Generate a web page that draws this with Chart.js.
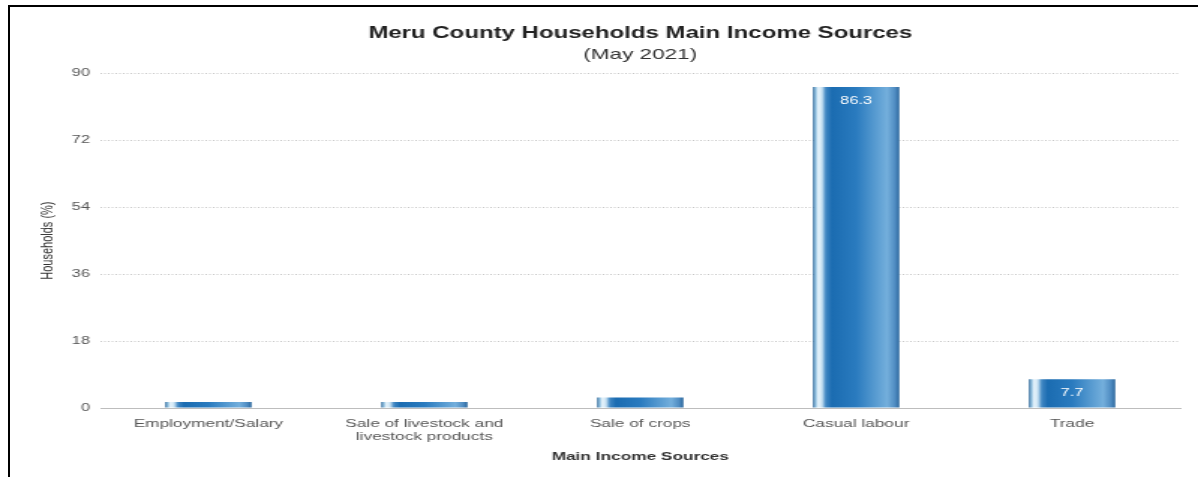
<!DOCTYPE html>
<html>
<head>
<meta charset="utf-8">
<title>Meru County Households Main Income Sources</title>
<script src="https://cdn.jsdelivr.net/npm/chart.js@4/dist/chart.umd.min.js"></script>
<style>
  html, body { margin: 0; padding: 0; background: #ffffff; }
  #wrap { position: relative; width: 1198px; height: 477px; overflow: hidden; background: #fff; }
  /* chart is rendered at 2/3 width and stretched horizontally */
  #stretch { position: absolute; left: 0; top: 0; width: 799px; height: 477px;
             transform: scaleX(1.4994); transform-origin: 0 0; }
  #frame { position: absolute; left: 8px; top: 5px; width: 1300px; height: 600px;
           border-top: 2px solid #000; border-left: 2px solid #000; pointer-events: none; }
  canvas { display: block; }
</style>
</head>
<body>
<div id="wrap">
  <div id="stretch"><canvas id="chart" width="799" height="477"></canvas></div>
  <div id="frame"></div>
</div>
<script>
// Income sources and share of households (%)
const categories = [
  'Employment/Salary',
  ['Sale of livestock and', 'livestock products'],
  'Sale of crops',
  'Casual labour',
  'Trade'
];
const householdShare = [1.6, 1.6, 2.8, 86.3, 7.7];
const yTicks = [0, 18, 36, 54, 72, 90];

const BAR_PCT = 0.4;
const FONT = '"Liberation Sans", Arial, Helvetica, sans-serif';

// Horizontal "glass tube" gradient across each bar
function barGradient(ctx) {
  const chart = ctx.chart;
  const xs = chart.scales.x;
  if (!xs || !chart.chartArea || ctx.dataIndex === undefined) return '#1f70b5';
  const c = xs.getPixelForValue(ctx.dataIndex);
  const w = xs.width / categories.length * BAR_PCT;
  const g = chart.ctx.createLinearGradient(c - w / 2, 0, c + w / 2, 0);
  g.addColorStop(0.00, '#2f6798');
  g.addColorStop(0.03, '#8fc0e0');
  g.addColorStop(0.06, '#e6f3fb');
  g.addColorStop(0.10, '#cfe6f5');
  g.addColorStop(0.15, '#3f86c2');
  g.addColorStop(0.22, '#1b6cb1');
  g.addColorStop(0.50, '#2a7bbf');
  g.addColorStop(0.86, '#74afdc');
  g.addColorStop(0.95, '#4f8cc2');
  g.addColorStop(1.00, '#2c679b');
  return g;
}

// White value labels just inside the top of the taller bars
const valueLabels = {
  id: 'valueLabels',
  afterDatasetsDraw(chart) {
    const { ctx } = chart;
    const meta = chart.getDatasetMeta(0);
    ctx.save();
    ctx.fillStyle = '#ffffff';
    ctx.font = '11px ' + FONT;
    ctx.textAlign = 'center';
    ctx.textBaseline = 'middle';
    meta.data.forEach((bar, i) => {
      const v = householdShare[i];
      if (v < 5) return;
      ctx.fillText(v.toFixed(1), bar.x, bar.y + 14);
    });
    ctx.restore();
  }
};

new Chart(document.getElementById('chart'), {
  type: 'bar',
  data: {
    labels: categories,
    datasets: [{
      data: householdShare,
      backgroundColor: barGradient,
      borderWidth: 0,
      categoryPercentage: 1.0,
      barPercentage: BAR_PCT
    }]
  },
  options: {
    responsive: false,
    animation: false,
    layout: { padding: { top: 0, right: 12, bottom: 0, left: 0 } },
    plugins: {
      legend: { display: false },
      tooltip: { enabled: false },
      title: {
        display: true,
        fullSize: false,
        text: 'Meru County Households Main Income Sources',
        color: '#222222',
        font: { family: FONT, size: 16, weight: 'bold', lineHeight: 1.2 },
        padding: { top: 24, bottom: 0 }
      },
      subtitle: {
        display: true,
        fullSize: false,
        text: '(May 2021)',
        color: '#333333',
        font: { family: FONT, size: 15, lineHeight: 1.2 },
        padding: { top: 3, bottom: 9 }
      }
    },
    scales: {
      x: {
        grid: { display: false, drawTicks: false },
        border: { display: true, color: '#bdbdbd', width: 1 },
        ticks: {
          color: '#555555',
          padding: 9,
          maxRotation: 0,
          autoSkip: false,
          font: { family: FONT, size: 11.5, lineHeight: 1.15 }
        },
        title: {
          display: true,
          text: 'Main Income Sources',
          color: '#333333',
          font: { family: FONT, size: 11.5, weight: 'bold', lineHeight: 1.2 },
          padding: { top: 0, bottom: 13 }
        },
        afterFit(scale) { scale.height = 69; }
      },
      y: {
        min: 0,
        max: 90,
        afterBuildTicks(scale) { scale.ticks = yTicks.map(v => ({ value: v })); },
        grid: { color: '#c6c6c6', lineWidth: 1, drawTicks: false },
        border: { display: false, dash: [1, 1.5] },
        ticks: {
          color: '#555555',
          padding: 7,
          font: { family: FONT, size: 11 }
        },
        title: {
          display: true,
          text: 'Households (%)',
          color: '#333333',
          font: { family: FONT, size: 11, lineHeight: 1.2 },
          padding: { top: 25, bottom: 0 }
        },
        afterFit(scale) { scale.width = 67; }
      }
    }
  },
  plugins: [valueLabels]
});
</script>
</body>
</html>
